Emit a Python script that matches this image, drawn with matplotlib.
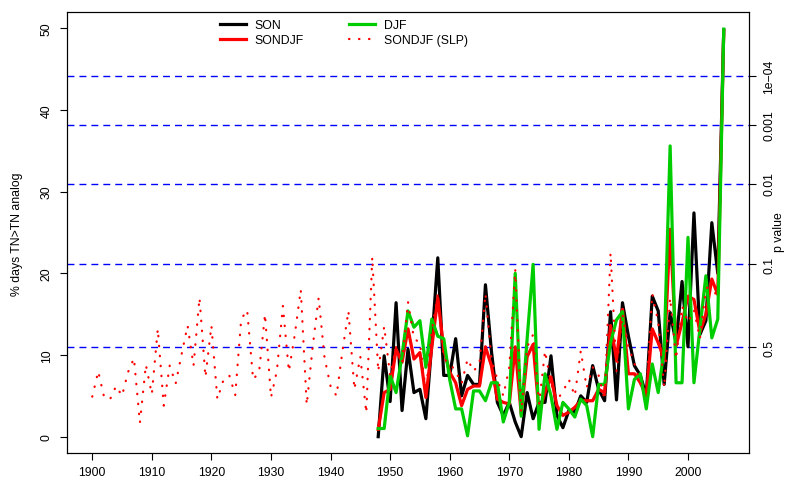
import matplotlib
matplotlib.use('Agg')
import matplotlib.pyplot as plt
from matplotlib.lines import Line2D

# analog-day percentages, one value per year
years = list(range(1948, 2007))
son = [0.0, 9.9, 4.3, 16.4, 3.2, 10.7, 5.4, 5.8, 2.2, 11.5,
       21.9, 7.5, 7.5, 12.0, 5.0, 7.5, 6.4, 6.4, 18.6, 10.5,
       4.2, 2.6, 4.2, 1.8, 0.0, 5.4, 2.2, 4.2, 4.2, 9.9,
       2.6, 1.1, 3.2, 3.0, 5.0, 4.2, 8.7, 5.8, 4.4, 15.3,
       4.5, 16.4, 12.3, 8.7, 7.5, 5.0, 17.2, 15.4, 6.4, 15.2,
       11.5, 19.0, 11.0, 27.4, 12.5, 14.2, 26.2, 20.0, 49.8]
sondjf = [0.9, 5.4, 5.8, 10.7, 9.1, 13.2, 9.5, 10.3, 4.8, 11.0,
          17.0, 10.7, 7.9, 6.6, 3.8, 5.8, 6.2, 6.2, 11.0, 8.7,
          4.6, 4.2, 4.0, 11.0, 2.8, 9.8, 11.3, 3.0, 5.4, 7.3,
          3.8, 2.6, 3.0, 3.6, 4.4, 4.4, 4.4, 5.8, 5.4, 13.6,
          9.5, 15.6, 7.7, 7.7, 6.6, 5.0, 13.2, 11.5, 9.5, 25.4,
          11.1, 14.0, 17.2, 16.8, 12.8, 15.0, 19.3, 17.4, 49.7]
djf = [1.0, 1.0, 7.5, 5.4, 10.0, 15.4, 13.4, 14.2, 8.5, 14.4,
       12.3, 12.0, 7.0, 3.4, 3.4, 0.1, 5.6, 5.6, 4.4, 6.6,
       6.6, 1.8, 4.2, 20.0, 2.5, 12.0, 21.1, 0.9, 7.7, 5.0,
       0.9, 4.2, 3.4, 2.4, 4.6, 3.8, 0.0, 6.4, 6.4, 11.5,
       14.3, 15.3, 3.4, 7.0, 7.7, 3.4, 8.9, 5.4, 10.7, 35.6,
       6.6, 6.6, 24.4, 6.6, 13.2, 19.7, 12.1, 14.4, 49.9]

slp_years = list(range(1900, 2006))
slp = [4.9, 8.0, 4.8, 4.6, 6.2, 5.0, 7.9, 9.6, 1.7, 8.8,
       5.2, 13.2, 3.8, 8.7, 6.5, 10.1, 13.6, 8.7, 17.0, 7.3,
       13.6, 4.6, 6.9, 7.5, 5.1, 14.4, 15.5, 7.0, 7.9, 15.0,
       4.8, 8.1, 16.0, 8.0, 12.5, 18.0, 3.9, 11.0, 17.0, 9.6,
       6.2, 5.0, 10.5, 15.4, 5.8, 9.8, 2.9, 22.0, 8.0, 13.5,
       7.5, 11.0, 9.0, 16.5, 12.0, 11.5, 5.5, 13.0, 17.5, 9.5,
       9.0, 8.0, 6.5, 9.5, 8.0, 9.0, 17.5, 9.5, 7.0, 5.0,
       8.5, 20.5, 3.0, 11.0, 12.5, 4.0, 10.5, 6.5, 4.5, 5.5,
       7.0, 5.0, 10.5, 6.0, 8.5, 7.5, 4.5, 22.5, 8.0, 15.0,
       11.0, 9.0, 6.5, 5.5, 17.5, 14.0, 6.0, 17.0, 9.5, 16.0,
       14.0, 15.5, 12.0, 18.0, 19.0, 16.5]

# significance thresholds (right axis)
p_labels = ['0.5', '0.1', '0.01', '0.001', '1e\u221204']
p_levels = [10.95, 21.1, 31.0, 38.2, 44.2]

x_ticks = list(range(1900, 2001, 10))
y_ticks = [0, 10, 20, 30, 40, 50]

plt.rcParams['font.family'] = ['Liberation Sans', 'DejaVu Sans']
FS = 8.8
DOTS = (0, (0.2, 4.3))

W, H = 786, 481
fig = plt.figure(figsize=(W / 100, H / 100), dpi=100)
ax = fig.add_axes([67 / W, 1 - 454 / H, (749 - 67) / W, (454 - 13) / H])

for yv in p_levels:
    ax.axhline(yv, color='#0000FF', lw=1.0, dashes=(5.0, 3.6), zorder=1)

ax.plot(years, son, color='black', lw=2.3, solid_joinstyle='round', zorder=2)
ax.plot(years, sondjf, color='#FF0000', lw=2.3, solid_joinstyle='round', zorder=3)
ax.plot(years, djf, color='#00CD00', lw=2.3, solid_joinstyle='round', zorder=4)
ax.plot(slp_years, slp, color='#FF0000', lw=1.6, linestyle=DOTS,
        dash_capstyle='round', zorder=5)

ax.set_xlim(1895.76, 2010.24)
ax.set_ylim(-2, 52)

ax.set_xticks(x_ticks)
ax.set_xticklabels([str(v) for v in x_ticks], fontsize=FS)
ax.set_yticks(y_ticks)
ax.set_yticklabels([str(v) for v in y_ticks], fontsize=FS, rotation=90, va='center')
ax.tick_params(axis='x', length=5, width=0.8, pad=4.0)
ax.tick_params(axis='y', length=5, width=0.8, pad=5.3)
for s in ax.spines.values():
    s.set_linewidth(0.8)

ax2 = ax.twinx()
ax2.set_ylim(-2, 52)
ax2.set_yticks(p_levels)
ax2.set_yticklabels(p_labels, fontsize=FS, rotation=90, va='center')
ax2.tick_params(axis='y', length=5, width=0.8, pad=5.3)
for s in ax2.spines.values():
    s.set_linewidth(0.8)

fig.text(11 / W, 1 - 234 / H, '% days TN>TN analog', rotation=90,
         ha='left', va='center', fontsize=FS)
fig.text(785 / W, 1 - 232 / H, 'p value', rotation=90,
         ha='right', va='center', fontsize=FS)

handles = [
    Line2D([], [], color='black', lw=2.3),
    Line2D([], [], color='#FF0000', lw=2.3),
    Line2D([], [], color='#00CD00', lw=2.3),
    Line2D([], [], color='#FF0000', lw=1.6, linestyle=DOTS, dash_capstyle='round'),
]
labels = ['SON', 'SONDJF', 'DJF', 'SONDJF (SLP)']
ax2.legend(handles, labels, ncol=2, frameon=False, loc='upper left',
           bbox_to_anchor=(220 / W, 1 - 20 / H), bbox_transform=fig.transFigure,
           borderpad=0, borderaxespad=0, handlelength=2.1, handletextpad=0.75,
           columnspacing=3.7, labelspacing=0.25, fontsize=FS)

fig.savefig('out.png', dpi=100)
